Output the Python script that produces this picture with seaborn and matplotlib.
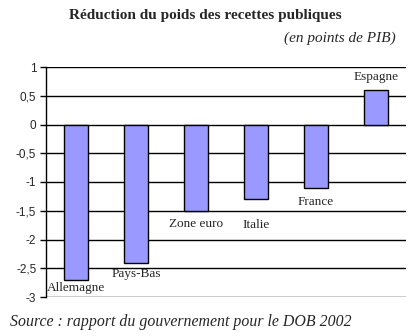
import matplotlib
matplotlib.use("Agg")
import matplotlib.pyplot as plt
import seaborn as sns
import pandas as pd

categories = ["Allemagne", "Pays-Bas", "Zone euro", "Italie", "France", "Espagne"]
values = [-2.7, -2.4, -1.5, -1.3, -1.1, 0.6]
ytick_values = [1, 0.5, 0, -0.5, -1, -1.5, -2, -2.5, -3]
ytick_labels = ["1", "0,5", "0", "-0,5", "-1", "-1,5", "-2", "-2,5", "-3"]
title = "Réduction du poids des recettes publiques"
subtitle = "(en points de PIB)"
source = "Source : rapport du gouvernement pour le DOB 2002"

# label offsets (pixels) from bar end
label_offsets = [-8, -11, -13, -26, -14, 13]

sns.set_style("white")
plt.rcParams['font.family'] = ['Liberation Serif', 'DejaVu Serif']

df = pd.DataFrame({"pays": categories, "val": values})

fig = plt.figure(figsize=(4.10, 3.36), dpi=100)
ax = fig.add_axes([46/410, 1-297/336, 360/410, 230/336])
sns.barplot(data=df, x="pays", y="val", ax=ax, color="#9999FF", width=0.4,
            edgecolor="black", linewidth=1, saturation=1, zorder=3)
ax.set_xlim(-0.5, 5.5)
ax.set_ylim(-3, 1)
ax.set_yticks(ytick_values)
ax.set_yticklabels(ytick_labels, family="Liberation Sans", fontsize=8.5)
ax.set_xticks([])
ax.set_xlabel("")
ax.set_ylabel("")
for y in ytick_values:
    ax.axhline(y, color="black", lw=1, zorder=1)
for s in ["top", "right", "bottom"]:
    ax.spines[s].set_visible(False)
ax.spines["left"].set_color("black")
ax.spines["left"].set_linewidth(1)
ax.tick_params(axis="y", left=True, length=4, width=1, color="black", pad=3)

for i, (c, v, off) in enumerate(zip(categories, values, label_offsets)):
    ax.annotate(c, xy=(i, v), xytext=(0, off), textcoords="offset pixels",
                ha="center", va="center", fontsize=9.5, zorder=4)

fig.text(205/410, 1-16/336, title, ha="center", va="center", fontsize=11, fontweight="bold")
fig.text(396/410, 1-38/336, subtitle, ha="right", va="center", fontsize=11, style="italic")
fig.text(10/410, 1-322/336, source, ha="left", va="center", fontsize=11.4, style="italic")

fig.savefig("out.png", dpi=100)
